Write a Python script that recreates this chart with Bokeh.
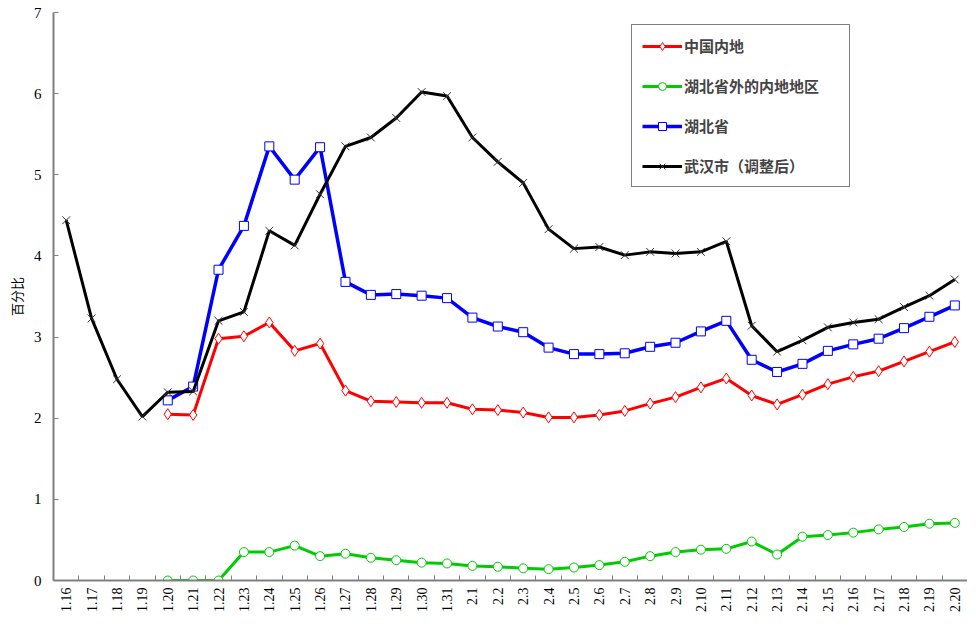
import math
from bokeh.plotting import figure
from bokeh.models import Range1d, FixedTicker, Legend
from bokeh.embed import file_html
from bokeh.resources import INLINE

nan = float("nan")

categories = ["1.16", "1.17", "1.18", "1.19", "1.20", "1.21", "1.22", "1.23", "1.24", "1.25",
              "1.26", "1.27", "1.28", "1.29", "1.30", "1.31", "2.1", "2.2", "2.3", "2.4",
              "2.5", "2.6", "2.7", "2.8", "2.9", "2.10", "2.11", "2.12", "2.13", "2.14",
              "2.15", "2.16", "2.17", "2.18", "2.19", "2.20"]

china_mainland = [nan, nan, nan, nan, 2.05, 2.04, 2.98, 3.01, 3.18, 2.83,
                  2.92, 2.34, 2.21, 2.20, 2.19, 2.19, 2.11, 2.10, 2.07, 2.01,
                  2.01, 2.04, 2.09, 2.18, 2.26, 2.38, 2.49, 2.28, 2.17, 2.29,
                  2.42, 2.51, 2.58, 2.70, 2.82, 2.94]

outside_hubei = [nan, nan, nan, nan, 0.00, 0.00, 0.00, 0.35, 0.35, 0.43,
                 0.30, 0.33, 0.28, 0.25, 0.22, 0.21, 0.18, 0.17, 0.15, 0.14,
                 0.16, 0.19, 0.23, 0.30, 0.35, 0.38, 0.39, 0.48, 0.32, 0.54,
                 0.56, 0.59, 0.63, 0.66, 0.70, 0.71]

hubei = [nan, nan, nan, nan, 2.22, 2.39, 3.83, 4.37, 5.35, 4.94,
         5.34, 3.68, 3.52, 3.53, 3.51, 3.48, 3.24, 3.13, 3.06, 2.87,
         2.79, 2.79, 2.80, 2.88, 2.93, 3.07, 3.20, 2.72, 2.57, 2.67,
         2.83, 2.91, 2.98, 3.11, 3.25, 3.39]

wuhan = [4.44, 3.23, 2.48, 2.02, 2.32, 2.33, 3.20, 3.31, 4.31, 4.13,
         4.76, 5.35, 5.46, 5.70, 6.02, 5.97, 5.46, 5.16, 4.90, 4.33,
         4.09, 4.11, 4.01, 4.05, 4.03, 4.05, 4.18, 3.14, 2.82, 2.96,
         3.12, 3.18, 3.22, 3.37, 3.51, 3.71]

y_ticks = [0, 1, 2, 3, 4, 5, 6, 7]
y_label = "百分比"
labels = ["中国内地", "湖北省外的内地地区", "湖北省", "武汉市（调整后）"]

x = list(range(len(categories)))

p = figure(width=967, height=630, output_backend="svg", toolbar_location=None,
           x_range=Range1d(-0.5, len(categories) - 0.5), y_range=Range1d(0, 7),
           min_border_left=53, min_border_right=0, min_border_top=12, min_border_bottom=50)
p.outline_line_color = None
p.xgrid.visible = False
p.ygrid.visible = False
p.background_fill_color = "white"

axis_color = "#808080"

# x axis
p.xaxis.ticker = FixedTicker(ticks=x, minor_ticks=[i - 0.5 for i in range(len(categories) + 1)])
p.xaxis.major_label_overrides = {i: c for i, c in enumerate(categories)}
p.xaxis.major_label_orientation = math.pi / 2
p.xaxis.major_tick_in = 0
p.xaxis.major_tick_out = 0
p.xaxis.minor_tick_in = 5
p.xaxis.minor_tick_out = 0
p.xaxis.minor_tick_line_color = axis_color
p.xaxis.axis_line_color = axis_color
p.xaxis.axis_line_width = 2
p.xaxis.major_label_standoff = 7
p.xaxis.major_label_text_font = "Liberation Serif"
p.xaxis.major_label_text_font_size = "14px"
p.xaxis.major_label_text_color = "black"

# y axis
p.yaxis.ticker = FixedTicker(ticks=y_ticks)
p.yaxis.major_tick_in = 5
p.yaxis.major_tick_out = 0
p.yaxis.minor_tick_line_color = None
p.yaxis.major_tick_line_color = axis_color
p.yaxis.axis_line_color = axis_color
p.yaxis.axis_line_width = 2
p.yaxis.major_label_standoff = 12
p.yaxis.major_label_text_font = "Liberation Serif"
p.yaxis.major_label_text_font_size = "15px"
p.yaxis.major_label_text_color = "black"
p.yaxis.axis_label = y_label
p.yaxis.axis_label_text_font = "Noto Sans CJK SC"
p.yaxis.axis_label_text_font_size = "13px"
p.yaxis.axis_label_text_font_style = "normal"
p.yaxis.axis_label_text_color = "black"
p.yaxis.axis_label_standoff = 5

series = [
    (china_mainland, "#FF0000", "diamond", 11, labels[0], 3),
    (outside_hubei, "#00CC00", "circle", 9, labels[1], 3),
    (hubei, "#0000FF", "square", 9, labels[2], 3.5),
    (wuhan, "#000000", "x", 11, labels[3], 3),
]

items = []
for vals, color, marker, size, label, lw in series:
    r1 = p.line(x, vals, line_color=color, line_width=lw)
    if marker == "x":
        r2 = p.scatter(x, vals, marker="x", size=size, line_color="#333333", line_width=1)
    else:
        r2 = p.scatter(x, vals, marker=marker, size=size, fill_color="white",
                       line_color=color, line_width=1)
    items.append((label, [r1, r2]))

legend = Legend(items=items, location=(578, 393), orientation="vertical")
legend.border_line_color = "black"
legend.border_line_width = 1
legend.background_fill_color = "white"
legend.background_fill_alpha = 1
legend.padding = 10
legend.spacing = 19
legend.margin = 0
legend.glyph_width = 40
legend.glyph_height = 20
legend.label_height = 20
legend.label_width = 155
legend.label_standoff = 2
legend.label_text_font = "Noto Sans CJK SC"
legend.label_text_font_size = "15px"
legend.label_text_font_style = "bold"
p.add_layout(legend, "center")

open("out.html", "w").write(file_html(p, INLINE))
